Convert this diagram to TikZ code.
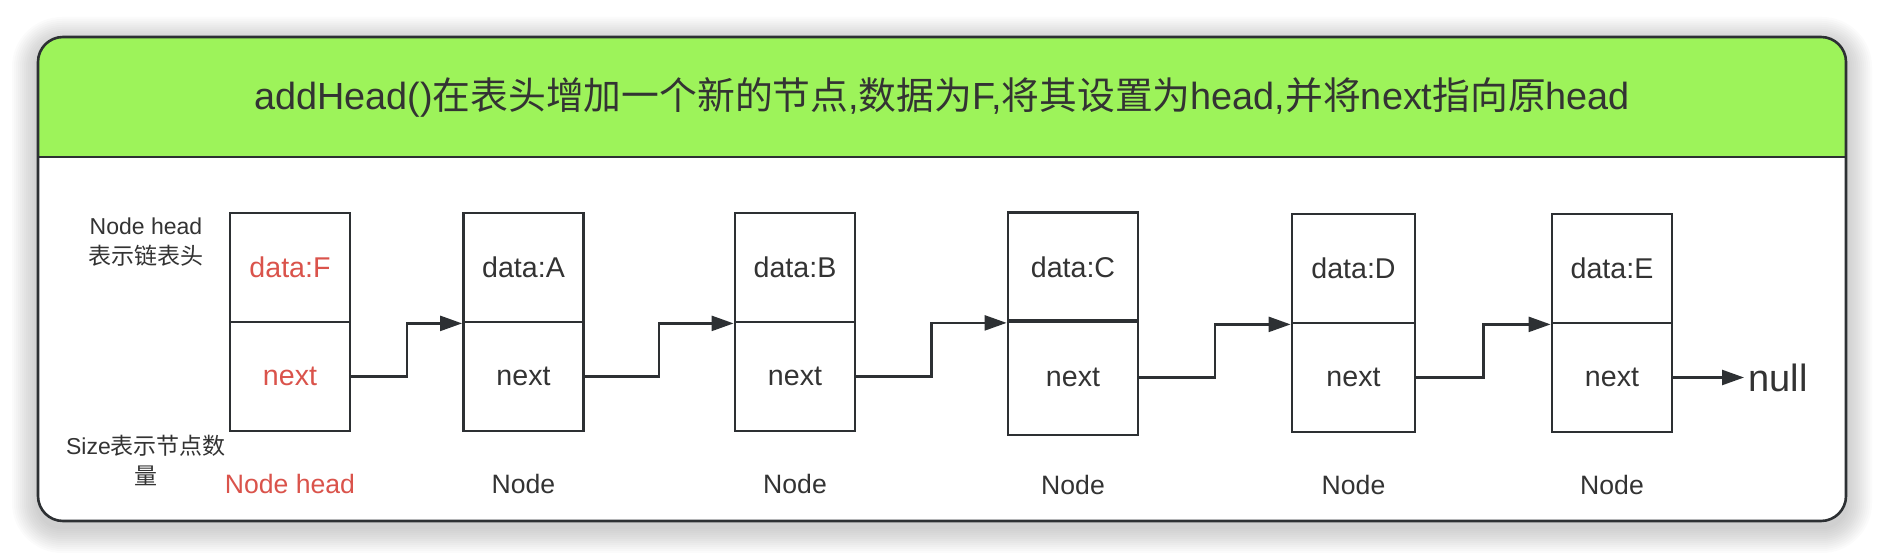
\documentclass[tikz,border=0pt]{standalone}
\usepackage{fontspec}
\setmainfont{Liberation Sans}
\newfontfamily\cjk{Noto Sans CJK SC}
\usetikzlibrary{arrows.meta}
\usetikzlibrary{calc}

\newcommand\zh[1]{{\cjk #1}}
\definecolor{hdrgreen}{RGB}{157,243,90}
\definecolor{ink}{RGB}{51,51,51}
\definecolor{edge}{RGB}{45,48,51}
\definecolor{hotred}{RGB}{218,83,75}

\begin{document}
\begin{tikzpicture}[x=0.5pt,y=-0.5pt,
  cell/.style={draw=edge,line width=1.4pt,minimum width=60pt,minimum height=54.5pt,inner sep=0pt,text=ink,font=\fontsize{14.3}{16}\selectfont},
  link/.style={draw=edge,line width=1.2pt,-{Triangle[length=11pt,width=7.5pt]}},
  lbl/.style={text=ink,font=\fontsize{13.3}{16}\selectfont,inner sep=0pt,anchor=base},
  note/.style={text=ink,font=\fontsize{11.5}{15}\selectfont,align=center,anchor=north,inner sep=0pt}]
  \useasboundingbox (0,0) rectangle (1884,560);
  % card with soft shadow
  \foreach \s in {2,4,...,26}
    \fill[black,opacity=.016,rounded corners=12pt+\s*0.5pt] ({38-\s},{37-\s+6}) rectangle ({1846+\s},{521+\s+6});
  \fill[white,rounded corners=12.5pt] (38,37) rectangle (1846,521);
  \begin{scope}
    \clip[rounded corners=12.5pt] (38,37) rectangle (1846,521);
    \fill[hdrgreen] (38,37) rectangle (1846,157);
  \end{scope}
  \draw[edge,line width=1.3pt] (38,157) -- (1846,157);
  \draw[edge,line width=1.3pt,rounded corners=12.5pt] (38,37) rectangle (1846,521);
  \node[text=ink,font=\fontsize{18.9}{22}\selectfont] (title) at (942,97) {addHead()\zh{在表头增加一个新的节点},\zh{数据为}F,\zh{将其设置为}head,\zh{并将}next\zh{指向原}head};

  \node[note] (headnote) at (146,217) {Node head\\\zh{表示链表头}};
  \node[note] (sizenote) at (146,435) {Size\zh{表示节点数}\\\zh{量}};

  \node[cell,text=hotred] (dF) at (290,267.5) {data:F};
  \node[cell,text=hotred] (nF) at (290,376.5) {next};
  \node[cell] (dA) at (523.5,267.5) {data:A};
  \node[cell] (nA) at (523.5,376.5) {next};
  \node[cell] (dB) at (795,267.5) {data:B};
  \node[cell] (nB) at (795,376.5) {next};
  \node[cell,minimum width=65pt] (dC) at (1073,267) {data:C};
  \node[cell,minimum width=65pt,minimum height=57.5pt] (nC) at (1073,377.5) {next};
  \node[cell,minimum width=61.5pt] (dD) at (1353.5,268.5) {data:D};
  \node[cell,minimum width=61.5pt] (nD) at (1353.5,377.5) {next};
  \node[cell] (dE) at (1612,268.5) {data:E};
  \node[cell] (nE) at (1612,377.5) {next};
  \node[text=ink,font=\fontsize{19}{22}\selectfont,anchor=west,inner sep=2pt] (null) at (1744,377.5) {null};

  \draw[link] (nF.east) -| ($(nF.east)!.5!(dA.south west)$) |- (dA.south west);
  \draw[link] (nA.east) -| ($(nA.east)!.5!(dB.south west)$) |- (dB.south west);
  \draw[link] (nB.east) -| ($(nB.east)!.5!(dC.south west)$) |- (dC.south west);
  \draw[link] (nC.east) -| ($(nC.east)!.5!(dD.south west)$) |- (dD.south west);
  \draw[link] (nD.east) -| ($(nD.east)!.5!(dE.south west)$) |- (dE.south west);
  \draw[link] (nE.east) -- (null.west);

  \node[lbl,text=hotred] (lF) at (290,494) {Node head};
  \node[lbl] (lA) at (523.5,494) {Node};
  \node[lbl] (lB) at (795,494) {Node};
  \node[lbl] (lC) at (1073,495) {Node};
  \node[lbl] (lD) at (1353.5,495) {Node};
  \node[lbl] (lE) at (1612,495) {Node};
\end{tikzpicture}
\end{document}
